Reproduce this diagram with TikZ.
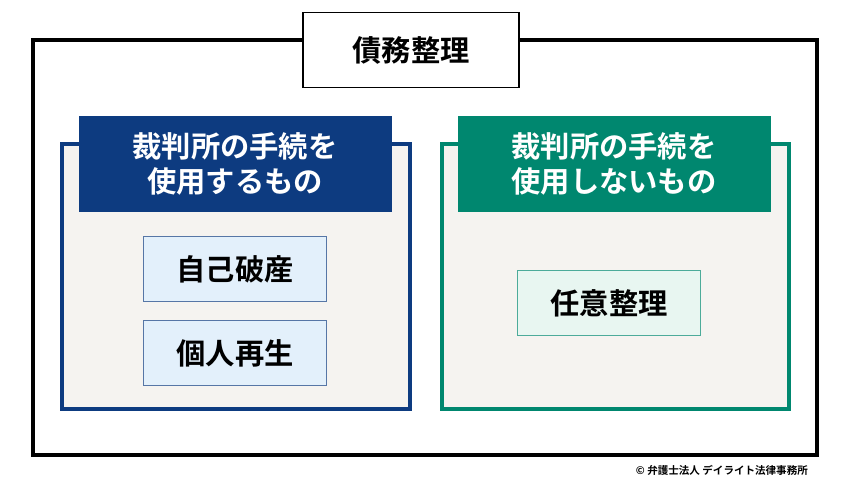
\documentclass[tikz,border=0pt]{standalone}
\usepackage{fontspec}
\newfontfamily\cjk{Noto Sans CJK JP Bold}
\usetikzlibrary{positioning}
\definecolor{navy}{HTML}{0D3B80}
\definecolor{teal}{HTML}{00876F}
\definecolor{panelbg}{HTML}{F5F3F0}
\definecolor{bluebg}{HTML}{E3F0FB}
\definecolor{greenbg}{HTML}{E8F6F1}
\begin{document}
\begin{tikzpicture}[
    x=0.03cm, y=-0.03cm,
    font=\cjk,
    panel/.style={draw, line width=3pt, fill=panelbg},
    header/.style={text=white, fontsize=26, align=center, inner sep=0pt},
    item/.style={draw, line width=0.8pt, minimum width=183*0.03cm, minimum height=65*0.03cm, font=\cjk\fontsize{25}{30}\selectfont},
    fontsize/.style={font=\cjk\fontsize{#1}{1.2*#1}\selectfont}
]
\useasboundingbox (0,0) rectangle (850,485);

% --- Marco exterior ---
\draw[line width=3pt] (33,40) rectangle (817,455);
\node[draw, line width=1.5pt, fill=white, minimum width=216*0.03cm, minimum height=75*0.03cm,
      font=\cjk\fontsize{25}{30}\selectfont] (titulo) at (411,50) {債務整理};

% --- Panel izquierdo ---
\draw[panel, draw=navy] (62,144) rectangle (410,409);
\fill[navy] (79,116) rectangle (392,212);
\node[text=white, align=center, font=\cjk\fontsize{25}{30}\selectfont] (usa) at (235,164) {裁判所の手続を\\使用するもの};
\node[item, draw=navy!70, fill=bluebg] (hasan) at (235,269) {自己破産};
\node[item, draw=navy!70, fill=bluebg, below=18*0.03cm of hasan] (saisei) {個人再生};

% --- Panel derecho ---
\draw[panel, draw=teal] (442,144) rectangle (789,409);
\fill[teal] (458,116) rectangle (771,212);
\node[text=white, align=center, font=\cjk\fontsize{25}{30}\selectfont] (nousa) at (614,164) {裁判所の手続を\\使用しないもの};
\node[item, draw=teal!70, fill=greenbg] (nini) at (609,303) {任意整理};

% --- Crédito ---
\node[anchor=east, font=\cjk\fontsize{9}{11}\selectfont] (credito) at (812,470) {© 弁護士法人 デイライト法律事務所};
\end{tikzpicture}
\end{document}
